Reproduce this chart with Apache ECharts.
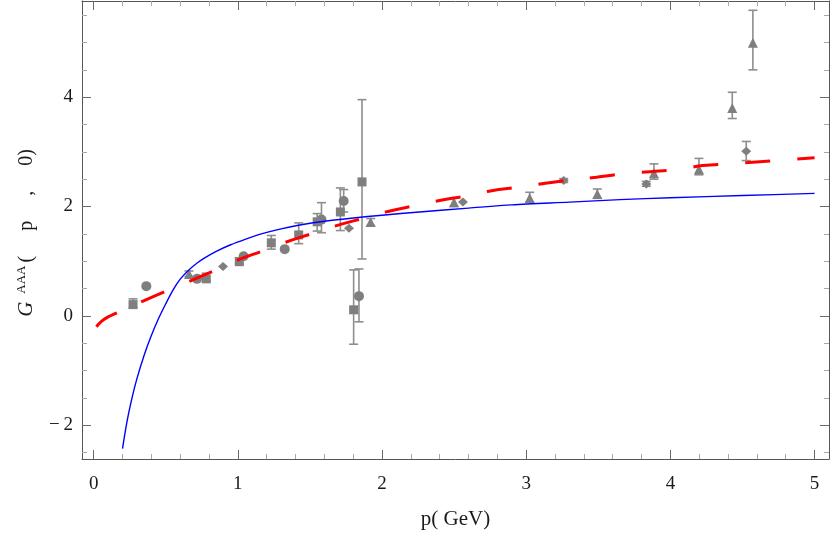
<!DOCTYPE html>
<html>
<head>
<meta charset="utf-8">
<script src="https://cdn.jsdelivr.net/npm/echarts@6/dist/echarts.min.js"></script>
<style>
html,body{margin:0;padding:0;background:#fff;}
#chart{width:830px;height:535px;}
</style>
</head>
<body>
<div id="chart"></div>
<script>
// ---- axis ticks / labels ----
const xTicks = [0, 1, 2, 3, 4, 5];
const xMinorTicks = [0.2,0.4,0.6,0.8,1.2,1.4,1.6,1.8,2.2,2.4,2.6,2.8,3.2,3.4,3.6,3.8,4.2,4.4,4.6,4.8];
const yTicks = [-2, 0, 2, 4];
const yMinorTicks = [-2.5,-1.5,-1,-0.5,0.5,1,1.5,2.5,3,3.5,4.5,5,5.5];

// ---- curves (p, G) ----
const blueCurve = [
  [0.20,-2.43],[0.23,-1.95],[0.26,-1.57],[0.30,-1.15],[0.35,-0.72],[0.40,-0.36],[0.45,-0.05],
  [0.50,0.22],[0.55,0.47],[0.60,0.67],[0.66,0.84],[0.72,0.97],[0.77,1.06],[0.85,1.18],
  [0.95,1.30],[1.05,1.40],[1.15,1.49],[1.30,1.59],[1.45,1.67],[1.60,1.73],[1.80,1.79],
  [2.0,1.84],[2.26,1.90],[2.6,1.97],[2.9,2.03],[3.3,2.08],[3.65,2.125],[4.0,2.16],[4.5,2.20],[5.0,2.24]
];
const redCurve = [
  [0.019,-0.20],[0.05,-0.11],[0.1,-0.02],[0.157,0.05],[0.25,0.16],[0.342,0.27],[0.5,0.45],
  [0.654,0.62],[0.839,0.83],[0.99,1.01],[1.174,1.19],[1.336,1.35],[1.521,1.51],[1.69,1.654],
  [1.879,1.79],[2.041,1.91],[2.237,2.02],[2.4,2.11],[2.596,2.2],[2.76,2.29],[2.954,2.355],
  [3.2,2.45],[3.486,2.536],[3.68,2.6],[4.06,2.68],[4.225,2.75],[4.42,2.78],[4.57,2.81],[5.0,2.89]
];

// ---- data points: [p, G, errLow, errHigh] ----
const squares = [
  [0.273,0.205,0.15,0.31],[0.781,0.676,0.63,0.78],[1.01,0.99,0.95,1.06],[1.232,1.335,1.22,1.47],
  [1.422,1.48,1.32,1.70],[1.55,1.72,1.55,1.87],[1.711,1.90,1.56,2.34],[1.861,2.45,1.04,3.955],
  [1.803,0.11,-0.52,0.84]
];
const circles = [
  [0.365,0.543,null,null],[0.717,0.676,null,null],[1.04,1.09,null,null],[1.325,1.22,null,null],
  [1.58,1.76,1.52,2.07],[1.734,2.10,1.90,2.31],[1.84,0.36,-0.11,0.857]
];
const diamonds = [
  [0.897,0.90,null,null],[1.771,1.60,null,null],[2.561,2.083,null,null],[3.26,2.476,2.44,2.51],
  [3.833,2.41,2.37,2.46],[4.526,3.01,2.84,3.19]
];
const triangles = [
  [0.661,0.767,0.72,0.82],[1.921,1.715,1.65,1.78],[2.499,2.077,2.0,2.16],[3.024,2.156,2.08,2.26],
  [3.493,2.23,2.15,2.32],[3.886,2.61,2.5,2.78],[4.198,2.68,2.58,2.88],[4.429,3.80,3.61,4.09],
  [4.572,4.995,4.50,5.59]
];

const X_MIN = -0.081, X_MAX = 5.10, Y_MIN = -2.62, Y_MAX = 5.76;
const FONT = "'Liberation Serif','Times New Roman',serif";
const FRAME = '#555555';
const MAJ = '#6a6a6a', MIN = '#a8a8a8';
const GRAY = '#7f7f7f', ERR = '#8e8e8e';
const TXT = '#1a1a1a';

const errData = [].concat(squares, circles, diamonds, triangles)
  .filter(d => d[2] !== null)
  .map(d => [d[0], d[2], d[3]]);

function ptData(arr){ return arr.map(d => [d[0], d[1]]); }

function xAxisDef(pos, vals, len, color, labels, lineShow){
  return {
    type:'value', position:pos, min:X_MIN, max:X_MAX,
    axisLine:{show:lineShow, onZero:false, lineStyle:{color:FRAME, width:1}},
    axisTick:{show:true, inside:true, length:len, customValues:vals, lineStyle:{color:color, width:1}},
    axisLabel:{show:labels, customValues:labels?vals:undefined, fontSize:19, fontFamily:FONT, color:TXT, margin:16},
    splitLine:{show:false}
  };
}
function yAxisDef(pos, vals, len, color, labels, lineShow){
  return {
    type:'value', position:pos, min:Y_MIN, max:Y_MAX,
    axisLine:{show:lineShow, onZero:false, lineStyle:{color:FRAME, width:1}},
    axisTick:{show:true, inside:true, length:len, customValues:vals, lineStyle:{color:color, width:1}},
    axisLabel:{show:labels, customValues:labels?vals:undefined, fontSize:19, fontFamily:FONT, color:TXT, margin:9,
      formatter: v => (v < 0 ? '\u2212\u2009' + Math.abs(v) : String(v))},
    splitLine:{show:false}
  };
}

const xa0 = xAxisDef('bottom', xTicks, 9, MAJ, true, true);
xa0.name = 'p( GeV)';
xa0.nameLocation = 'middle';
xa0.nameGap = 50;
xa0.nameTextStyle = {fontSize:21, fontFamily:FONT, color:TXT};

const ya0 = yAxisDef('left', yTicks, 9, MAJ, true, true);
ya0.name = '{g|G}{s|AAA}{n|(}{m|p}{m|,}{m|0}{e|)}';
ya0.nameLocation = 'middle';
ya0.nameRotate = 90;
ya0.nameGap = 45;
ya0.nameTextStyle = {
  fontFamily:FONT, color:TXT, fontSize:20,
  rich:{
    g:{fontSize:21, fontStyle:'italic', fontFamily:FONT, color:TXT, verticalAlign:'bottom'},
    s:{fontSize:13, fontFamily:FONT, color:TXT, verticalAlign:'top', padding:[0,3,9,8]},
    n:{fontSize:20, fontFamily:FONT, color:TXT, verticalAlign:'bottom'},
    m:{fontSize:20, fontFamily:FONT, color:TXT, verticalAlign:'bottom', padding:[0,0,0,25]},
    e:{fontSize:20, fontFamily:FONT, color:TXT, verticalAlign:'bottom', padding:[0,6,0,0]}
  }
};

const option = {
  animation:false,
  backgroundColor:'#ffffff',
  grid:{left:82, right:1, top:1, bottom:71, containLabel:false},
  xAxis:[
    xa0,
    xAxisDef('bottom', xMinorTicks, 5, MIN, false, false),
    xAxisDef('top', xTicks, 9, MAJ, false, true),
    xAxisDef('top', xMinorTicks, 5, MIN, false, false)
  ],
  yAxis:[
    ya0,
    yAxisDef('left', yMinorTicks, 5, MIN, false, false),
    yAxisDef('right', yTicks, 9, MAJ, false, true),
    yAxisDef('right', yMinorTicks, 5, MIN, false, false)
  ],
  series:[
    {
      type:'custom', name:'err', xAxisIndex:0, yAxisIndex:0, z:2,
      data:errData,
      encode:{x:0, y:[1,2]},
      renderItem:function(params, api){
        const x = api.value(0), lo = api.value(1), hi = api.value(2);
        const a = api.coord([x, lo]), b = api.coord([x, hi]);
        const w = 4.5;
        const st = {stroke:ERR, lineWidth:1.6};
        return {type:'group', children:[
          {type:'line', shape:{x1:a[0], y1:a[1], x2:b[0], y2:b[1]}, style:st},
          {type:'line', shape:{x1:a[0]-w, y1:a[1], x2:a[0]+w, y2:a[1]}, style:st},
          {type:'line', shape:{x1:b[0]-w, y1:b[1], x2:b[0]+w, y2:b[1]}, style:st}
        ]};
      }
    },
    {type:'scatter', name:'squares', data:ptData(squares), symbol:'rect', symbolSize:9, itemStyle:{color:GRAY, opacity:1}, z:3},
    {type:'scatter', name:'circles', data:ptData(circles), symbol:'circle', symbolSize:10, itemStyle:{color:GRAY, opacity:1}, z:3},
    {type:'scatter', name:'diamonds', data:ptData(diamonds), symbol:'diamond', symbolSize:[10,9], itemStyle:{color:GRAY, opacity:1}, z:3},
    {type:'scatter', name:'triangles', data:ptData(triangles), symbol:'triangle', symbolSize:10, itemStyle:{color:GRAY, opacity:1}, z:3},
    {type:'line', name:'blue', data:blueCurve, smooth:0.3, showSymbol:false, z:4,
      lineStyle:{color:'#0000ff', width:1.4}},
    {type:'line', name:'red', data:redCurve, smooth:0.4, showSymbol:false, z:5,
      lineStyle:{color:'#ff0000', width:3, type:[25,27]}}
  ]
};

const chart = echarts.init(document.getElementById('chart'), null, {renderer:'canvas'});
chart.setOption(option);
</script>
</body>
</html>
